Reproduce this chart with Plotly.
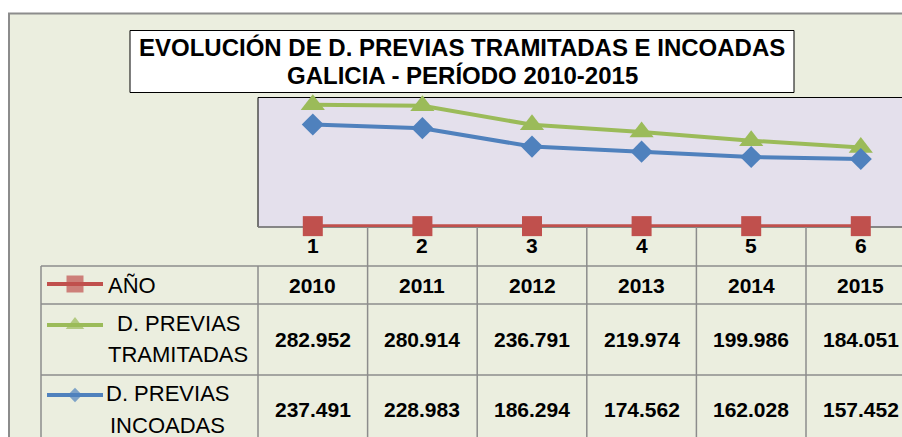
import plotly.graph_objs as go

#===========================================
# data
#===========================================
categorias = [1, 2, 3, 4, 5, 6]
anios = [2010, 2011, 2012, 2013, 2014, 2015]
tramitadas = [282952, 280914, 236791, 219974, 199986, 184051]
incoadas = [237491, 228983, 186294, 174562, 162028, 157452]

titulo_1 = "EVOLUCIÓN DE D. PREVIAS TRAMITADAS E INCOADAS"
titulo_2 = "GALICIA - PERÍODO 2010-2015"

#-------------------------------------------
# colors / fonts
bg_color = '#EBEEDF'
plot_color = '#E4E0EC'
grid_color = '#8C8C8C'
red = '#C0504D'
green = '#9BBB59'
blue = '#4F81BD'
font_family = 'Liberation Sans, Arial, sans-serif'

# page pixel frame (body margin removed in the page, see write_html)
W, H = 902, 437
col_w = 109.6
x_left = 258


def px(x):
    return x / W


def py(y):
    return 1 - y / H


def miles(v):
    return f"{v:,}".replace(",", ".")


#-------------------------------------------
# traces
data = []
data.append(go.Scatter(x=categorias, y=anios, mode='lines+markers',
                       line=dict(color=red, width=4),
                       marker=dict(symbol='square', size=20, color=red),
                       cliponaxis=False))
data.append(go.Scatter(x=categorias, y=tramitadas, mode='lines+markers',
                       line=dict(color=green, width=4),
                       marker=dict(symbol='triangle-up', size=21, color=green),
                       cliponaxis=False))
data.append(go.Scatter(x=categorias, y=incoadas, mode='lines+markers',
                       line=dict(color=blue, width=4),
                       marker=dict(symbol='diamond', size=17, color=blue),
                       cliponaxis=False))

# legend keys (overlay axis in page pixels)
keys = [(red, 'square', 17, 284), (green, 'triangle-up', 16, 325), (blue, 'diamond', 11, 395)]
for c, s, sz, yk in keys:
    data.append(go.Scatter(x=[47, 75, 103], y=[yk] * 3, mode='lines+markers',
                           xaxis='x2', yaxis='y2',
                           line=dict(color=c, width=4),
                           marker=dict(symbol=s, size=[0, sz, 0], color=c,
                                       line=dict(width=0)),
                           cliponaxis=False))

#-------------------------------------------
# shapes
shapes = []
# chart background with border
shapes.append(dict(type='rect', xref='paper', yref='paper', layer='below',
                   x0=px(9), x1=px(930), y0=py(460), y1=py(13.5),
                   fillcolor=bg_color, line=dict(color=grid_color, width=2)))
# plot area
shapes.append(dict(type='rect', xref='paper', yref='paper', layer='below',
                   x0=px(x_left), x1=px(940), y0=py(227), y1=py(97.5),
                   fillcolor=plot_color, line=dict(color='black', width=1)))
# title box
shapes.append(dict(type='rect', xref='paper', yref='paper', layer='above',
                   x0=px(130), x1=px(794), y0=py(92.5), y1=py(30.5),
                   fillcolor='white', line=dict(color='black', width=1)))
# table grid
gl = dict(color=grid_color, width=1.5)
for k in range(7):
    xv = x_left + col_w * k
    shapes.append(dict(type='line', xref='paper', yref='paper', layer='below',
                       x0=px(xv), x1=px(xv), y0=py(227 if k else 266), y1=py(460), line=gl))
shapes.append(dict(type='line', xref='paper', yref='paper', layer='below',
                   x0=px(x_left), x1=px(940), y0=py(227), y1=py(227), line=gl))
for yv in [266, 304, 375]:
    shapes.append(dict(type='line', xref='paper', yref='paper', layer='below',
                       x0=px(41), x1=px(940), y0=py(yv), y1=py(yv), line=gl))
shapes.append(dict(type='line', xref='paper', yref='paper', layer='below',
                   x0=px(41), x1=px(41), y0=py(266), y1=py(460), line=gl))

#-------------------------------------------
# annotations
ann = []
tf = dict(family=font_family, size=24, color='black', weight='bold')
ann.append(dict(text=titulo_1, x=px(462), y=py(48), xref='paper', yref='paper',
                showarrow=False, xanchor='center', yanchor='middle', font=tf))
ann.append(dict(text=titulo_2, x=px(462), y=py(75), xref='paper', yref='paper',
                showarrow=False, xanchor='center', yanchor='middle', font=tf))

cf = dict(family=font_family, size=21, color='black', weight='bold')
rows = [(categorias, 246), (anios, 285), (tramitadas, 339), (incoadas, 409)]
for vals, yr in rows:
    for c, v in zip(categorias, vals):
        t = miles(v) if v > 10000 else str(v)
        ann.append(dict(text=t, x=c, y=py(yr), xref='x', yref='paper',
                        showarrow=False, xanchor='center', yanchor='middle',
                        font=cf))

lf = dict(family=font_family, size=22, color='black')
labels = [('AÑO', 106, 285, 'left'),
          ('D. PREVIAS', 178, 323, 'center'), ('TRAMITADAS', 178, 354, 'center'),
          ('D. PREVIAS', 167, 393, 'center'), ('INCOADAS', 167, 425, 'center')]
for t, xl, yl, a in labels:
    ann.append(dict(text=t, x=px(xl), y=py(yl), xref='paper', yref='paper',
                    showarrow=False, xanchor=a, yanchor='middle', font=lf))

#-------------------------------------------
layout = go.Layout(
    width=W, height=H,
    showlegend=False,
    margin=dict(l=0, r=0, t=0, b=0),
    paper_bgcolor='white',
    plot_bgcolor='rgba(0,0,0,0)',
    xaxis=dict(domain=[px(x_left), 1], range=[0.5, 0.5 + (W - x_left) / col_w],
               visible=False, fixedrange=True),
    yaxis=dict(domain=[py(227), py(97.5)], range=[0, 300000],
               visible=False, fixedrange=True),
    xaxis2=dict(domain=[0, 1], range=[0, W], visible=False, anchor='y2'),
    yaxis2=dict(domain=[0, 1], range=[H, 0], visible=False, anchor='x2'),
    shapes=shapes,
    annotations=ann,
)

fig = go.Figure(data=data, layout=layout)
fig.write_html("out.html",
               config={'displayModeBar': False},
               post_script="document.body.style.margin='0';"
                           "document.body.style.overflow='hidden';")
